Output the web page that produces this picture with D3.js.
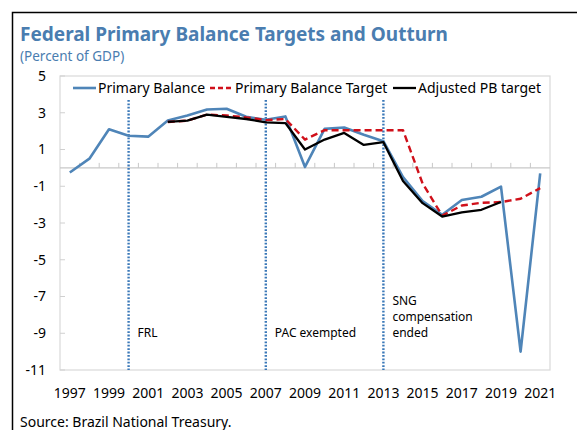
<!DOCTYPE html>
<html>
<head>
<meta charset="utf-8">
<script src="https://cdn.jsdelivr.net/npm/d3@7"></script>
<style>
  body { margin: 0; background: #fff; }
  text { font-family: "Noto Sans", "Open Sans", sans-serif; }
</style>
</head>
<body>
<script>
"use strict";

// Data

const years = d3.range(1997, 2022);
const primaryBalance = [-0.25, 0.5, 2.1, 1.75, 1.7, 2.58, 2.85, 3.18, 3.22, 2.78, 2.62, 2.8, 0.05, 2.12, 2.2, 1.8, 1.45,
    -0.5, -1.8, -2.55, -1.75, -1.57, -1.02, -10.0, -0.3];
const pbTarget = [null, null, null, null, null, 2.5, 2.57, 2.9, 2.85, 2.75, 2.6, 2.66, 1.54, 2.05, 2.05, 2.05, 2.05,
    2.05, -0.85, -2.6, -2.05, -1.9, -1.86, -1.68, -1.1];
const adjustedTarget = [null, null, null, null, null, 2.5, 2.57, 2.9, 2.77, 2.66, 2.48, 2.44, 1.0, 1.54, 1.9, 1.25, 1.4,
    -0.72, -1.92, -2.65, -2.42, -2.28, -1.86, null, null];
const yTicks = [5, 3, 1, -1, -3, -5, -7, -9, -11];
const xTickYears = years.filter(y => (y - 1997) % 2 === 0);
const events = [
    { year: 2000, lines: ['FRL'] },
    { year: 2007, lines: ['PAC exempted'] },
    { year: 2013, lines: ['SNG', 'compensation', 'ended'] }
];
const series = [
    { name: 'Primary Balance', values: primaryBalance, color: '#4f85b8', dash: null, width: 2.6 },
    { name: 'Primary Balance Target', values: pbTarget, color: '#d0101a', dash: '7,4', width: 2.4 },
    { name: 'Adjusted PB target', values: adjustedTarget, color: '#000000', dash: null, width: 2.3 }
];

// Size parameters

const width = 577;
const height = 430;
const plot = { left: 60, right: 550, top: 76, bottom: 370 };

const svg = d3.select('body')
    .append('svg')
    .attr('width', width)
    .attr('height', height);

// Outer frame (left and top)
svg.append('path')
    .attr('d', `M12.5,${height} L12.5,12.5 L${width},12.5`)
    .attr('fill', 'none')
    .attr('stroke', '#000')
    .attr('stroke-width', 1.5);

// Titles
svg.append('text')
    .attr('x', 20).attr('y', 41)
    .attr('fill', '#4a7db0')
    .attr('font-weight', 'bold')
    .attr('font-size', 19)
    .text('Federal Primary Balance Targets and Outturn');

svg.append('text')
    .attr('x', 20).attr('y', 61)
    .attr('fill', '#4a7db0')
    .attr('font-size', 13.5)
    .text('(Percent of GDP)');

// Scales

const x = d3.scaleBand()
    .domain(years)
    .range([plot.left, plot.right]);
const cx = d => x(d) + x.bandwidth() / 2;

const y = d3.scaleLinear()
    .domain([-11, 5])
    .range([plot.bottom, plot.top]);

// Plot frame
svg.append('rect')
    .attr('x', plot.left).attr('y', plot.top)
    .attr('width', plot.right - plot.left)
    .attr('height', plot.bottom - plot.top)
    .attr('fill', 'none')
    .attr('stroke', '#d9d9d9')
    .attr('stroke-width', 1.2);

// Y axis: labels outside, ticks inside
svg.append('g')
    .selectAll('line')
    .data(yTicks)
    .enter()
    .append('line')
    .attr('x1', plot.left).attr('x2', plot.left + 5)
    .attr('y1', d => y(d)).attr('y2', d => y(d))
    .attr('stroke', '#d0d0d0');

svg.append('g')
    .selectAll('text')
    .data(yTicks)
    .enter()
    .append('text')
    .attr('x', 46)
    .attr('y', d => y(d))
    .attr('dy', '0.35em')
    .attr('text-anchor', 'end')
    .attr('font-size', 14)
    .attr('fill', '#000')
    .text(d => d);

// X axis at zero, ticks upward at category boundaries
svg.append('line')
    .attr('x1', plot.left).attr('x2', plot.right)
    .attr('y1', y(0)).attr('y2', y(0))
    .attr('stroke', '#c8c8c8')
    .attr('stroke-width', 1.2);

svg.append('g')
    .selectAll('line')
    .data(years.slice(1))
    .enter()
    .append('line')
    .attr('x1', d => x(d)).attr('x2', d => x(d))
    .attr('y1', y(0)).attr('y2', y(0) - 5)
    .attr('stroke', '#c8c8c8');

svg.append('g')
    .selectAll('text')
    .data(xTickYears)
    .enter()
    .append('text')
    .attr('x', d => cx(d))
    .attr('y', 398)
    .attr('text-anchor', 'middle')
    .attr('font-size', 14)
    .attr('fill', '#000')
    .text(d => d);

// Event markers
const ev = svg.append('g')
    .selectAll('g')
    .data(events)
    .enter()
    .append('g');

ev.append('line')
    .attr('x1', d => cx(d.year)).attr('x2', d => cx(d.year))
    .attr('y1', 100).attr('y2', plot.bottom)
    .attr('stroke', '#3a78b8')
    .attr('stroke-width', 2.4)
    .attr('stroke-dasharray', '1.8,1.6');

ev.append('text')
    .attr('x', d => cx(d.year) + 9)
    .attr('y', d => 337 - (d.lines.length - 1) * 16)
    .attr('font-size', 12)
    .attr('fill', '#000')
    .selectAll('tspan')
    .data(d => d.lines.map(t => ({ t, x: cx(d.year) + 9 })))
    .enter()
    .append('tspan')
    .attr('x', d => d.x)
    .attr('dy', (d, i) => i === 0 ? 0 : 16)
    .text(d => d.t);

// Series lines
const line = d3.line()
    .defined(d => d.v !== null)
    .x(d => cx(d.year))
    .y(d => y(d.v));

svg.append('g')
    .selectAll('path')
    .data(series)
    .enter()
    .append('path')
    .attr('d', s => line(years.map((yr, i) => ({ year: yr, v: s.values[i] }))))
    .attr('fill', 'none')
    .attr('stroke', s => s.color)
    .attr('stroke-width', s => s.width)
    .attr('stroke-dasharray', s => s.dash)
    .attr('stroke-linejoin', 'round');

// Legend
const legendX = [73, 210, 393];
const legend = svg.append('g')
    .selectAll('g')
    .data(series)
    .enter()
    .append('g')
    .attr('transform', (d, i) => `translate(${legendX[i]},88)`);

legend.append('line')
    .attr('x1', 0).attr('x2', 23)
    .attr('stroke', d => d.color)
    .attr('stroke-width', d => d.width)
    .attr('stroke-dasharray', d => d.dash ? '5,3' : null);

legend.append('text')
    .attr('x', 25)
    .attr('dy', '0.35em')
    .attr('font-size', 14)
    .attr('fill', '#000')
    .text(d => d.name);

// Source
svg.append('text')
    .attr('x', 20).attr('y', 427)
    .attr('font-size', 14)
    .attr('fill', '#000')
    .text('Source: Brazil National Treasury.');
</script>
</body>
</html>
